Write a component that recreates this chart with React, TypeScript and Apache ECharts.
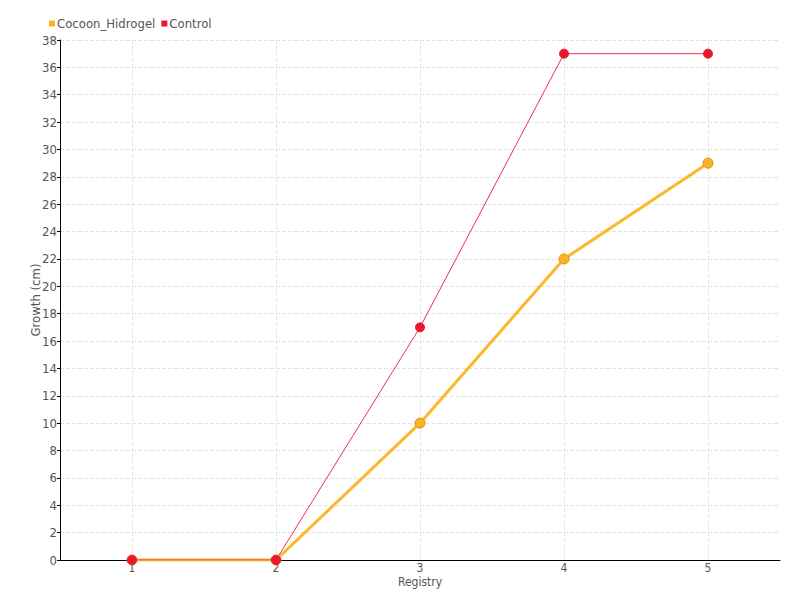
import React, { useEffect, useRef } from "react";
import * as echarts from "echarts";

const categories = ["1", "2", "3", "4", "5"];
const cocoonValues = [0, 0, 10, 22, 29];
const controlValues = [0, 0, 17, 37, 37];
const seriesNames = ["Cocoon_Hidrogel", "Control"];

const FONT = "'Liberation Sans Narrow', 'DejaVu Sans Condensed', sans-serif";

export default function App() {
  const ref = useRef<HTMLDivElement>(null);
  useEffect(() => {
    if (!ref.current) return;
    const chart = echarts.init(ref.current, undefined, { renderer: "svg" });
    chart.setOption({
      animation: false,
      textStyle: { fontFamily: FONT },
      legend: {
        left: 44,
        top: 12,
        itemWidth: 6,
        itemHeight: 6,
        itemGap: 6,
        icon: "rect",
        itemStyle: { borderWidth: 0 },
        textStyle: { fontFamily: FONT, fontSize: 13, color: "#555", padding: [0, 0, 0, -3] },
        data: seriesNames,
      },
      grid: { left: 60, right: 20, top: 40, bottom: 40 },
      xAxis: {
        type: "category",
        data: categories,
        name: "Registry",
        nameLocation: "middle",
        nameGap: 16,
        nameMoveOverlap: false,
        nameTextStyle: { fontFamily: FONT, fontSize: 12, color: "#555", verticalAlign: "top" },
        axisLine: { lineStyle: { color: "#000" } },
        axisTick: { show: false, alignWithLabel: true },
        axisLabel: { fontFamily: FONT, fontSize: 12, color: "#555", margin: 2 },
        splitLine: { show: true, alignWithLabel: true, lineStyle: { type: "dashed", color: "#e3e3e3" } },
      },
      yAxis: {
        type: "value",
        min: 0,
        max: 38,
        interval: 2,
        name: "Growth (cm)",
        nameLocation: "middle",
        nameGap: 18,
        nameMoveOverlap: false,
        nameTextStyle: { fontFamily: FONT, fontSize: 13, color: "#555" },
        axisLine: { show: true, lineStyle: { color: "#000" } },
        axisTick: { show: true, length: 3, lineStyle: { color: "#000" } },
        axisLabel: { fontFamily: FONT, fontSize: 13, color: "#555", margin: 3 },
        splitLine: { show: true, lineStyle: { type: "dashed", color: "#e3e3e3" } },
      },
      series: [
        {
          name: seriesNames[0],
          type: "line",
          data: cocoonValues,
          symbol: "circle",
          symbolSize: 10,
          color: "#f9b325",
          lineStyle: { width: 3, color: "#fbb829" },
          itemStyle: { color: "#f9b325", borderColor: "#d98f14", borderWidth: 1 },
        },
        {
          name: seriesNames[1],
          type: "line",
          data: controlValues,
          symbol: "circle",
          symbolSize: 9,
          color: "#e8192c",
          lineStyle: { width: 1, color: "#f0304a" },
          itemStyle: { color: "#e8192c", borderColor: "#e8192c" },
        },
      ],
    });
    return () => chart.dispose();
  }, []);
  return <div ref={ref} style={{ width: 800, height: 600, position: "absolute", left: 0, top: 0 }} />;
}
